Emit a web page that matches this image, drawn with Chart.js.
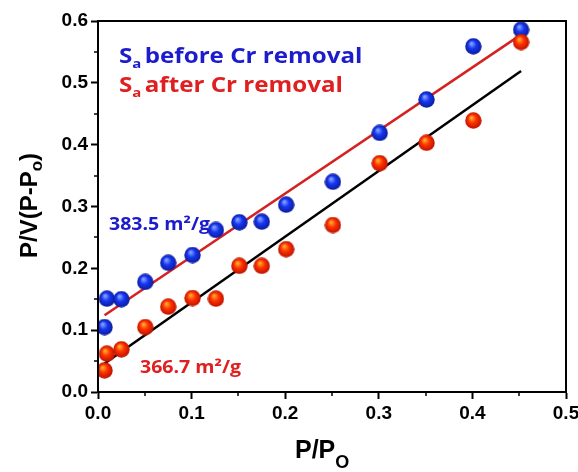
<!DOCTYPE html>
<html>
<head>
<meta charset="utf-8">
<script src="https://cdn.jsdelivr.net/npm/chart.js@4"></script>
<style>
  html, body { margin: 0; padding: 0; background: #fff; overflow: hidden; }
  #wrap { width: 578px; height: 472px; overflow: hidden; }
</style>
</head>
<body>
<div id="wrap"><canvas id="bet" width="600" height="472"></canvas></div>
<script>
// relative pressure P/Po (shared by both samples)
const relPressure = [0.007, 0.0095, 0.025, 0.0505, 0.075, 0.101, 0.126, 0.151, 0.175, 0.201, 0.251, 0.301, 0.351, 0.401, 0.452];
// P/V(P-Po) before and after Cr removal
const beforeCr = [0.105, 0.151, 0.150, 0.178, 0.209, 0.2215, 0.262, 0.2745, 0.2755, 0.303, 0.340, 0.419, 0.473, 0.559, 0.586];
const afterCr = [0.035, 0.062, 0.069, 0.105, 0.138, 0.152, 0.151, 0.204, 0.204, 0.231, 0.270, 0.370, 0.403, 0.439, 0.566];
// linear BET fits, evaluated at the ends of the range
const fitX = [0.007, 0.452];
const fitBefore = [0.124, 0.578];
const fitAfter = [0.046, 0.519];
const xTicks = [0, 0.1, 0.2, 0.3, 0.4, 0.5];
const yTicks = [0, 0.1, 0.2, 0.3, 0.4, 0.5, 0.6];

const toPts = (xs, ys) => xs.map((x, i) => ({x, y: ys[i]}));

// glossy ball marker
function sphere(light, mid, dark) {
  const s = 17;
  const c = document.createElement('canvas');
  c.width = s; c.height = s;
  const g = c.getContext('2d');
  const grad = g.createRadialGradient(s * 0.38, s * 0.32, 0.5, s / 2, s / 2, s / 2);
  grad.addColorStop(0, light);
  grad.addColorStop(0.45, mid);
  grad.addColorStop(1, dark);
  g.fillStyle = grad;
  g.beginPath();
  g.arc(s / 2, s / 2, s / 2 - 0.3, 0, Math.PI * 2);
  g.fill();
  return c;
}
const blueBall = sphere('#8aa6ff', '#1636f2', '#0b1a96');
const redBall = sphere('#ffb030', '#ff3200', '#b81000');

// text drawn a bit wider than the font's natural width
const STRETCH = 1.15;
function wideText(ctx, parts, lx, ly) {
  ctx.save();
  ctx.translate(lx, ly);
  ctx.scale(STRETCH, 1);
  let cx = 0;
  for (const p of parts) {
    ctx.font = p.font;
    ctx.fillText(p.text, cx, p.dy || 0);
    cx += ctx.measureText(p.text).width + (p.gap || 0);
  }
  ctx.restore();
}

// frame, minor ticks and all hand-placed text
const decor = {
  id: 'decor',
  afterDraw(chart) {
    const {ctx, chartArea: a, scales: {x, y}} = chart;
    ctx.save();
    ctx.strokeStyle = '#000';
    ctx.lineWidth = 2;
    ctx.strokeRect(a.left, a.top, a.right - a.left, a.bottom - a.top);
    ctx.lineWidth = 1.5;
    ctx.beginPath();
    for (let v = 0.05; v < 0.5; v += 0.1) {
      const px = Math.round(x.getPixelForValue(v));
      ctx.moveTo(px, a.bottom); ctx.lineTo(px, a.bottom + 4);
    }
    for (let v = 0.05; v < 0.6; v += 0.1) {
      const py = Math.round(y.getPixelForValue(v));
      ctx.moveTo(a.left, py); ctx.lineTo(a.left - 4, py);
    }
    ctx.stroke();

    // axis titles
    ctx.fillStyle = '#000';
    ctx.textBaseline = 'alphabetic';
    ctx.font = 'bold 25px "Liberation Sans", Arial, sans-serif';
    let w = ctx.measureText('P/P').width;
    ctx.fillText('P/P', 295, 458);
    ctx.font = 'bold 18px "Liberation Sans", Arial, sans-serif';
    ctx.fillText('O', 295 + w, 468);

    ctx.save();
    ctx.translate(37, 258);
    ctx.rotate(-Math.PI / 2);
    ctx.font = 'bold 24px "Liberation Sans", Arial, sans-serif';
    w = ctx.measureText('P/V(P-P').width;
    ctx.fillText('P/V(P-P', 0, 0);
    ctx.font = 'bold 17px "Liberation Sans", Arial, sans-serif';
    const w2 = ctx.measureText('o').width;
    ctx.fillText('o', w, 5);
    ctx.font = 'bold 24px "Liberation Sans", Arial, sans-serif';
    ctx.fillText(')', w + w2, 0);
    ctx.restore();

    // sample labels
    const big = 'bold 21px "Open Sans", sans-serif';
    const sub = 'bold 13px "Open Sans", sans-serif';
    ctx.fillStyle = '#1c1ccc';
    wideText(ctx, [{text: 'S', font: big}, {text: 'a', font: sub, dy: 5, gap: 3}, {text: 'before Cr removal', font: big}], 119, 63);
    ctx.fillStyle = '#e02020';
    wideText(ctx, [{text: 'S', font: big}, {text: 'a', font: sub, dy: 5, gap: 3}, {text: 'after Cr removal', font: big}], 119, 92);

    const note = 'bold 17px "Open Sans", sans-serif';
    ctx.fillStyle = '#1c1ccc';
    wideText(ctx, [{text: '383.5 m\u00b2/g', font: note}], 109, 230);
    ctx.fillStyle = '#e02020';
    wideText(ctx, [{text: '366.7 m\u00b2/g', font: note}], 140, 373);
    ctx.restore();
  }
};

const tickFont = {family: '"Liberation Sans", Arial, sans-serif', size: 19, weight: 'bold'};

new Chart(document.getElementById('bet'), {
  type: 'scatter',
  data: {
    datasets: [
      {label: 'after', data: toPts(relPressure, afterCr), pointStyle: redBall, pointRadius: 8.5, showLine: false},
      {label: 'before', data: toPts(relPressure, beforeCr), pointStyle: blueBall, pointRadius: 8.5, showLine: false},
      {label: 'fit before', data: toPts(fitX, fitBefore), showLine: true, borderColor: '#d42222', borderWidth: 2.5, pointRadius: 0},
      {label: 'fit after', data: toPts(fitX, fitAfter), showLine: true, borderColor: '#000', borderWidth: 2.5, pointRadius: 0}
    ]
  },
  options: {
    responsive: false,
    animation: false,
    devicePixelRatio: 1,
    layout: {padding: {top: 21, right: 34, left: 0, bottom: 0}},
    plugins: {legend: {display: false}, tooltip: {enabled: false}},
    scales: {
      x: {
        type: 'linear', min: 0, max: 0.5,
        afterBuildTicks: s => { s.ticks = xTicks.map(v => ({value: v})); },
        afterFit: s => { s.height = 80; },
        ticks: {color: '#000', font: tickFont, padding: 3, maxRotation: 0, callback: v => v.toFixed(1)},
        grid: {drawOnChartArea: false, drawTicks: true, tickLength: 7, tickWidth: 2, tickColor: '#000'},
        border: {color: '#000', width: 2}
      },
      y: {
        type: 'linear', min: 0, max: 0.6,
        afterBuildTicks: s => { s.ticks = yTicks.map(v => ({value: v})); },
        afterFit: s => { s.width = 98; },
        ticks: {color: '#000', font: tickFont, padding: 3, callback: v => v.toFixed(1)},
        grid: {drawOnChartArea: false, drawTicks: true, tickLength: 7, tickWidth: 2, tickColor: '#000'},
        border: {color: '#000', width: 2}
      }
    }
  },
  plugins: [decor]
});
</script>
</body>
</html>
